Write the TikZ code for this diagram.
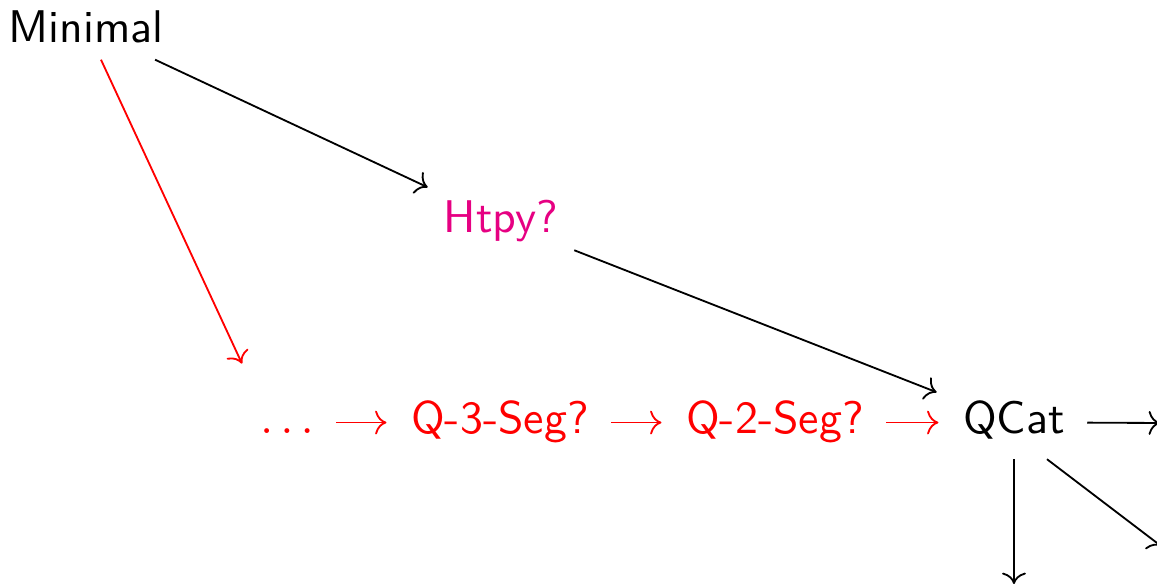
\documentclass[tikz,border=0pt]{standalone}
\usepackage{amsmath,amssymb}
\usepackage{tikz}
\usetikzlibrary{arrows.meta,positioning,calc}

\definecolor{htpypink}{RGB}{230,0,130}
\tikzset{
    rowitem/.style={anchor=base,inner sep=0pt,text height=7pt,text depth=2pt},
    rowarrow/.style={->,shorten <=4.7pt,shorten >=5.2pt},
}

\begin{document}
\begin{tikzpicture}[x=0.2182pt,y=-0.2182pt,font=\sffamily]
    \useasboundingbox (0,0) rectangle (1157,585);
    \clip (0,0) rectangle (1157,585);
    % top and middle
    \node[anchor=base] (minimal) at (86,43) {Minimal};
    \node[anchor=base,htpypink] (htpy) at (501,233) {Htpy?};
    % the row
    \node[rowitem,red] (dots) at (287,434) {$\ldots$};
    \node[rowitem,red] (qthree) at (500,434) {Q-3-Seg?};
    \node[rowitem,red] (qtwo) at (775,434) {Q-2-Seg?};
    \node[rowitem] (qcat) at (1014,434) {QCat};
    \coordinate (qcatright) at (1160,423);
    \coordinate (qcatdown) at (1014,584);
    \coordinate (qcatdiag) at (1161,546);
    % arrows
    \draw[->] (minimal) -- (htpy);
    \draw[->,red,shorten >=9pt] (minimal) -- (dots.north west);
    \draw[->,shorten >=6pt] (htpy) -- (qcat);
    \draw[rowarrow,red] (dots.east) -- (qthree.west);
    \draw[rowarrow,red] (qthree.east) -- (qtwo.west);
    \draw[rowarrow,red] (qtwo.east) -- (qcat.west);
    \draw[->,shorten <=4.7pt] (qcat.east) -- (qcatright);
    \draw[->,shorten <=3.3pt] (qcat.south) -- (qcatdown);
    \draw[->] ([xshift=7.2pt,yshift=-3.3pt]qcat.south) -- (qcatdiag);
\end{tikzpicture}
\end{document}
